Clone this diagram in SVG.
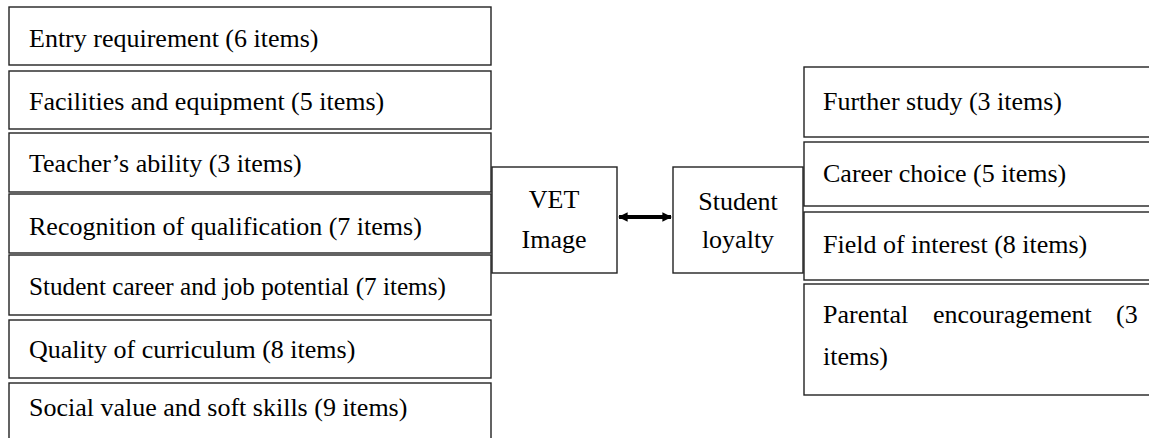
<svg xmlns="http://www.w3.org/2000/svg" width="1149" height="438" viewBox="0 0 1149 438">
  <style>
    .box { fill: #ffffff; stroke: #222222; stroke-width: 1.4; }
    text { font-family: 'Liberation Serif', 'Times New Roman', serif; font-size: 26px; fill: #000000; }
    .small { font-size: 25.2px; }
    .mid { text-anchor: middle; }
  </style>
  <defs>
    <marker id="head" viewBox="0 0 10 10" refX="9" refY="5" markerWidth="2.4" markerHeight="2.8" orient="auto-start-reverse" markerUnits="strokeWidth">
      <path d="M0,0 L10,5 L0,10 z" fill="#000000"/>
    </marker>
  </defs>
  <rect width="1149" height="438" fill="#ffffff"/>

  <!-- image dimensions on the left -->
  <g id="entry-requirement">
    <rect class="box" x="9" y="7" width="482" height="58"/>
    <text x="29" y="47">Entry requirement (6 items)</text>
  </g>
  <g id="facilities">
    <rect class="box" x="9" y="71" width="482" height="58"/>
    <text x="29" y="110">Facilities and equipment (5 items)</text>
  </g>
  <g id="teacher-ability">
    <rect class="box" x="9" y="133" width="482" height="59"/>
    <text x="29" y="172">Teacher’s ability (3 items)</text>
  </g>
  <g id="recognition">
    <rect class="box" x="9" y="194" width="482" height="59"/>
    <text x="29" y="235">Recognition of qualification (7 items)</text>
  </g>
  <g id="career-potential">
    <rect class="box" x="9" y="255" width="482" height="60"/>
    <text class="small" x="29" y="295">Student career and job potential (7 items)</text>
  </g>
  <g id="curriculum">
    <rect class="box" x="9" y="320" width="482" height="58"/>
    <text x="29" y="358">Quality of curriculum (8 items)</text>
  </g>
  <g id="social-value">
    <rect class="box" x="9" y="383" width="482" height="60"/>
    <text x="29" y="416">Social value and soft skills (9 items)</text>
  </g>

  <!-- central constructs -->
  <g id="vet-image">
    <rect class="box" x="492" y="167" width="125" height="106"/>
    <text class="mid" x="554" y="208">VET</text>
    <text class="mid" x="554" y="248">Image</text>
  </g>
  <g id="student-loyalty">
    <rect class="box" x="673" y="167" width="130" height="106"/>
    <text class="mid" x="738" y="210">Student</text>
    <text class="mid" x="738" y="248">loyalty</text>
  </g>

  <!-- loyalty dimensions on the right -->
  <g id="further-study">
    <rect class="box" x="804" y="67" width="350" height="70"/>
    <text x="823" y="110">Further study (3 items)</text>
  </g>
  <g id="career-choice">
    <rect class="box" x="804" y="142" width="350" height="64"/>
    <text x="823" y="182">Career choice (5 items)</text>
  </g>
  <g id="field-of-interest">
    <rect class="box" x="804" y="212" width="350" height="68"/>
    <text x="823" y="253">Field of interest (8 items)</text>
  </g>
  <g id="parental-encouragement">
    <rect class="box" x="804" y="284" width="350" height="111"/>
    <text y="323"><tspan x="823">Parental</tspan><tspan x="933">encouragement</tspan><tspan x="1116">(3</tspan></text>
    <text x="823" y="365">items)</text>
  </g>

  <!-- connectors -->
  <g id="connectors">
    <line x1="619" y1="217" x2="671" y2="217" stroke="#000000" stroke-width="4" marker-start="url(#head)" marker-end="url(#head)"/>
  </g>
</svg>
